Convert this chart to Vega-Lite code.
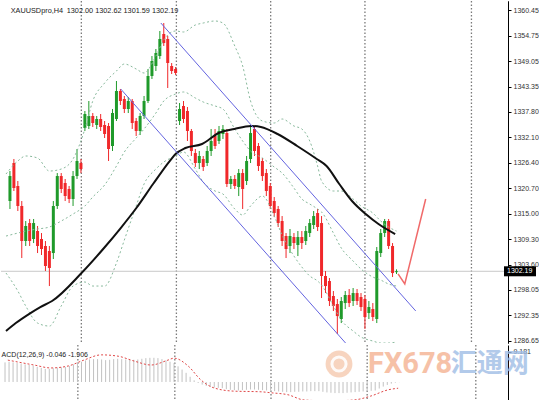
{
  "$schema": "https://vega.github.io/schema/vega-lite/v6.json",
  "padding": 0,
  "background": "white",
  "spacing": 0,
  "config": {
    "font": "Liberation Sans",
    "view": {"stroke": null},
    "axis": {"domainColor": "#000000", "tickColor": "#000000", "tickSize": 3, "labelFontSize": 7, "labelColor": "#333333", "labelPadding": 2, "grid": false, "labelOverlap": false, "labelFlush": false, "labelBound": false, "domainWidth": 1}
  },
  "resolve": {"scale": {"y": "independent"}},
  "datasets": {
    "candles": [
      {"b":1,"o":1317.86,"h":1324.55,"l":1316.08,"c":1323.43},
      {"b":2,"o":1326.33,"h":1327.23,"l":1320.09,"c":1320.76},
      {"b":3,"o":1321.21,"h":1322.32,"l":1315.63,"c":1316.75},
      {"b":4,"o":1316.75,"h":1317.86,"l":1305.15,"c":1308.94},
      {"b":5,"o":1308.94,"h":1313.40,"l":1307.83,"c":1312.29},
      {"b":6,"o":1312.95,"h":1313.85,"l":1307.83,"c":1308.94},
      {"b":7,"o":1309.39,"h":1313.85,"l":1308.49,"c":1312.95},
      {"b":8,"o":1311.17,"h":1312.29,"l":1306.26,"c":1307.83},
      {"b":9,"o":1309.39,"h":1310.72,"l":1305.82,"c":1307.16},
      {"b":10,"o":1307.83,"h":1308.94,"l":1302.25,"c":1303.37},
      {"b":11,"o":1306.71,"h":1307.83,"l":1298.90,"c":1302.92},
      {"b":12,"o":1306.26,"h":1317.86,"l":1304.93,"c":1316.75},
      {"b":13,"o":1316.75,"h":1324.10,"l":1316.08,"c":1323.43},
      {"b":14,"o":1323.43,"h":1324.10,"l":1319.64,"c":1320.54},
      {"b":15,"o":1321.87,"h":1322.77,"l":1317.86,"c":1318.97},
      {"b":16,"o":1320.54,"h":1321.21,"l":1317.41,"c":1318.31},
      {"b":17,"o":1318.31,"h":1324.55,"l":1316.75,"c":1323.43},
      {"b":18,"o":1323.43,"h":1329.46,"l":1322.77,"c":1326.78},
      {"b":19,"o":1326.33,"h":1327.23,"l":1324.10,"c":1324.99},
      {"b":20,"o":1334.14,"h":1337.93,"l":1333.47,"c":1337.26},
      {"b":21,"o":1334.59,"h":1340.16,"l":1333.92,"c":1336.82},
      {"b":22,"o":1336.82,"h":1337.48,"l":1334.36,"c":1335.25},
      {"b":23,"o":1334.81,"h":1336.82,"l":1333.92,"c":1336.15},
      {"b":24,"o":1336.15,"h":1337.26,"l":1333.47,"c":1334.36},
      {"b":25,"o":1334.81,"h":1335.70,"l":1331.91,"c":1332.80},
      {"b":26,"o":1334.59,"h":1335.25,"l":1326.78,"c":1329.46},
      {"b":27,"o":1330.13,"h":1338.38,"l":1329.01,"c":1337.48},
      {"b":28,"o":1336.15,"h":1344.62,"l":1335.70,"c":1342.39},
      {"b":29,"o":1342.39,"h":1342.84,"l":1339.27,"c":1340.16},
      {"b":30,"o":1340.61,"h":1341.28,"l":1337.48,"c":1338.38},
      {"b":31,"o":1338.38,"h":1341.05,"l":1337.48,"c":1340.16},
      {"b":32,"o":1340.16,"h":1340.61,"l":1333.92,"c":1335.25},
      {"b":33,"o":1335.70,"h":1336.37,"l":1332.36,"c":1333.47},
      {"b":34,"o":1333.47,"h":1337.48,"l":1332.58,"c":1336.82},
      {"b":35,"o":1336.82,"h":1341.28,"l":1336.15,"c":1340.16},
      {"b":36,"o":1340.16,"h":1347.30,"l":1339.71,"c":1345.74},
      {"b":37,"o":1345.74,"h":1350.19,"l":1345.07,"c":1349.08},
      {"b":38,"o":1347.97,"h":1351.76,"l":1346.85,"c":1350.86},
      {"b":39,"o":1350.19,"h":1355.77,"l":1349.53,"c":1353.99},
      {"b":40,"o":1355.10,"h":1357.55,"l":1352.43,"c":1353.09},
      {"b":41,"o":1353.99,"h":1354.66,"l":1343.06,"c":1348.63},
      {"b":42,"o":1347.97,"h":1348.63,"l":1346.18,"c":1346.85},
      {"b":43,"o":1347.30,"h":1347.74,"l":1345.96,"c":1346.40},
      {"b":44,"o":1335.70,"h":1339.71,"l":1334.81,"c":1338.38},
      {"b":45,"o":1339.05,"h":1340.16,"l":1335.25,"c":1336.15},
      {"b":46,"o":1337.93,"h":1338.82,"l":1331.24,"c":1333.47},
      {"b":47,"o":1333.47,"h":1333.92,"l":1327.90,"c":1329.01},
      {"b":48,"o":1328.56,"h":1329.46,"l":1325.44,"c":1326.33},
      {"b":49,"o":1326.33,"h":1329.01,"l":1324.99,"c":1327.90},
      {"b":50,"o":1327.23,"h":1327.90,"l":1324.55,"c":1325.44},
      {"b":51,"o":1326.33,"h":1330.13,"l":1325.66,"c":1329.01},
      {"b":52,"o":1329.01,"h":1333.92,"l":1327.90,"c":1331.24},
      {"b":53,"o":1332.36,"h":1333.92,"l":1329.46,"c":1330.13},
      {"b":54,"o":1331.24,"h":1334.59,"l":1330.57,"c":1333.47},
      {"b":55,"o":1332.80,"h":1334.81,"l":1331.69,"c":1333.92},
      {"b":56,"o":1333.02,"h":1333.92,"l":1320.98,"c":1321.65},
      {"b":57,"o":1321.65,"h":1323.44,"l":1320.54,"c":1322.77},
      {"b":58,"o":1322.77,"h":1323.66,"l":1320.54,"c":1321.21},
      {"b":59,"o":1320.98,"h":1324.99,"l":1318.97,"c":1324.10},
      {"b":60,"o":1324.10,"h":1324.99,"l":1316.08,"c":1320.54},
      {"b":61,"o":1322.32,"h":1327.90,"l":1321.43,"c":1326.78},
      {"b":62,"o":1327.23,"h":1334.59,"l":1326.33,"c":1333.02},
      {"b":63,"o":1333.92,"h":1334.59,"l":1327.90,"c":1329.01},
      {"b":64,"o":1330.13,"h":1330.79,"l":1324.55,"c":1325.66},
      {"b":65,"o":1326.78,"h":1327.45,"l":1322.32,"c":1323.43},
      {"b":66,"o":1324.10,"h":1324.99,"l":1318.97,"c":1320.09},
      {"b":67,"o":1321.21,"h":1321.87,"l":1316.08,"c":1316.75},
      {"b":68,"o":1317.86,"h":1318.75,"l":1314.29,"c":1315.18},
      {"b":69,"o":1316.08,"h":1316.75,"l":1312.06,"c":1312.95},
      {"b":70,"o":1313.40,"h":1314.51,"l":1307.83,"c":1308.94},
      {"b":71,"o":1310.06,"h":1310.72,"l":1305.15,"c":1307.16},
      {"b":72,"o":1307.83,"h":1311.62,"l":1306.26,"c":1310.06},
      {"b":73,"o":1309.83,"h":1310.72,"l":1307.16,"c":1308.49},
      {"b":74,"o":1308.05,"h":1311.17,"l":1305.59,"c":1309.83},
      {"b":75,"o":1309.83,"h":1311.17,"l":1307.16,"c":1308.49},
      {"b":76,"o":1308.94,"h":1312.29,"l":1308.05,"c":1311.17},
      {"b":77,"o":1310.72,"h":1313.85,"l":1309.83,"c":1312.95},
      {"b":78,"o":1312.51,"h":1315.63,"l":1311.62,"c":1314.51},
      {"b":79,"o":1315.18,"h":1316.08,"l":1311.17,"c":1312.06},
      {"b":80,"o":1312.95,"h":1314.51,"l":1296.23,"c":1301.14},
      {"b":81,"o":1301.14,"h":1302.25,"l":1297.34,"c":1298.90},
      {"b":82,"o":1300.02,"h":1300.69,"l":1294.45,"c":1295.56},
      {"b":83,"o":1296.68,"h":1297.79,"l":1293.33,"c":1294.45},
      {"b":84,"o":1294.89,"h":1296.01,"l":1288.20,"c":1292.21},
      {"b":85,"o":1291.55,"h":1296.45,"l":1290.65,"c":1295.56},
      {"b":86,"o":1295.11,"h":1297.79,"l":1293.78,"c":1296.90},
      {"b":87,"o":1296.90,"h":1298.24,"l":1294.22,"c":1295.11},
      {"b":88,"o":1295.56,"h":1298.46,"l":1294.45,"c":1297.34},
      {"b":89,"o":1297.34,"h":1298.24,"l":1294.67,"c":1295.56},
      {"b":90,"o":1296.45,"h":1297.34,"l":1293.33,"c":1294.22},
      {"b":91,"o":1296.01,"h":1296.90,"l":1289.32,"c":1291.99},
      {"b":92,"o":1292.88,"h":1295.56,"l":1291.55,"c":1294.22},
      {"b":93,"o":1293.78,"h":1295.11,"l":1291.10,"c":1291.99},
      {"b":94,"o":1291.55,"h":1307.60,"l":1290.65,"c":1306.71},
      {"b":95,"o":1306.26,"h":1311.62,"l":1305.37,"c":1310.72},
      {"b":96,"o":1310.72,"h":1313.85,"l":1309.83,"c":1313.40},
      {"b":97,"o":1313.40,"h":1313.85,"l":1307.16,"c":1307.83},
      {"b":98,"o":1307.83,"h":1308.49,"l":1300.91,"c":1301.80},
      {"b":99,"o":1302.00,"h":1302.62,"l":1301.59,"c":1302.19}
    ],
    "bands": [
      {"band":"upper","b":0,"p":1323.88},{"band":"upper","b":3,"p":1326.78},{"band":"upper","b":5,"p":1327.90},{"band":"upper","b":8,"p":1327.45},{"band":"upper","b":11,"p":1324.55},{"band":"upper","b":14,"p":1324.99},{"band":"upper","b":17,"p":1327.23},{"band":"upper","b":20,"p":1333.92},{"band":"upper","b":22,"p":1340.16},{"band":"upper","b":25,"p":1344.17},{"band":"upper","b":28,"p":1346.85},{"band":"upper","b":30,"p":1348.41},{"band":"upper","b":33,"p":1347.30},{"band":"upper","b":35,"p":1346.40},{"band":"upper","b":38,"p":1350.19},{"band":"upper","b":40,"p":1353.76},{"band":"upper","b":43,"p":1355.77},{"band":"upper","b":45,"p":1355.55},{"band":"upper","b":48,"p":1357.11},{"band":"upper","b":50,"p":1357.55},{"band":"upper","b":53,"p":1358.00},{"band":"upper","b":55,"p":1357.55},{"band":"upper","b":58,"p":1352.43},{"band":"upper","b":60,"p":1347.97},{"band":"upper","b":62,"p":1340.16},{"band":"upper","b":65,"p":1335.70},{"band":"upper","b":68,"p":1335.25},{"band":"upper","b":70,"p":1336.15},{"band":"upper","b":73,"p":1334.59},{"band":"upper","b":75,"p":1333.92},{"band":"upper","b":77,"p":1331.24},{"band":"upper","b":79,"p":1325.66},{"band":"upper","b":80,"p":1322.32},{"band":"upper","b":83,"p":1320.09},{"band":"upper","b":85,"p":1320.09},{"band":"upper","b":88,"p":1318.31},{"band":"upper","b":90,"p":1316.75},{"band":"upper","b":93,"p":1315.18},{"band":"upper","b":95,"p":1313.40},{"band":"upper","b":97,"p":1312.06},{"band":"upper","b":99,"p":1311.17},
      {"band":"middle","b":0,"p":1310.05},{"band":"middle","b":3,"p":1310.72},{"band":"middle","b":5,"p":1311.17},{"band":"middle","b":8,"p":1311.62},{"band":"middle","b":11,"p":1312.06},{"band":"middle","b":14,"p":1313.40},{"band":"middle","b":17,"p":1314.96},{"band":"middle","b":20,"p":1316.75},{"band":"middle","b":22,"p":1318.75},{"band":"middle","b":25,"p":1321.43},{"band":"middle","b":28,"p":1325.66},{"band":"middle","b":30,"p":1328.79},{"band":"middle","b":33,"p":1331.91},{"band":"middle","b":35,"p":1333.92},{"band":"middle","b":38,"p":1337.48},{"band":"middle","b":40,"p":1340.16},{"band":"middle","b":43,"p":1341.72},{"band":"middle","b":45,"p":1342.17},{"band":"middle","b":48,"p":1340.83},{"band":"middle","b":50,"p":1339.94},{"band":"middle","b":53,"p":1339.05},{"band":"middle","b":55,"p":1338.38},{"band":"middle","b":58,"p":1333.92},{"band":"middle","b":60,"p":1331.24},{"band":"middle","b":62,"p":1329.01},{"band":"middle","b":65,"p":1327.45},{"band":"middle","b":68,"p":1325.44},{"band":"middle","b":70,"p":1324.10},{"band":"middle","b":73,"p":1320.76},{"band":"middle","b":75,"p":1318.31},{"band":"middle","b":77,"p":1317.19},{"band":"middle","b":79,"p":1316.08},{"band":"middle","b":80,"p":1315.41},{"band":"middle","b":83,"p":1310.72},{"band":"middle","b":85,"p":1307.38},{"band":"middle","b":88,"p":1304.48},{"band":"middle","b":90,"p":1302.70},{"band":"middle","b":93,"p":1300.91},{"band":"middle","b":95,"p":1300.24},{"band":"middle","b":97,"p":1299.35},{"band":"middle","b":99,"p":1298.90},
      {"band":"lower","b":0,"p":1301.80},{"band":"lower","b":3,"p":1297.79},{"band":"lower","b":5,"p":1294.45},{"band":"lower","b":8,"p":1290.65},{"band":"lower","b":11,"p":1289.98},{"band":"lower","b":14,"p":1294.45},{"band":"lower","b":17,"p":1298.90},{"band":"lower","b":20,"p":1299.80},{"band":"lower","b":22,"p":1298.90},{"band":"lower","b":25,"p":1298.90},{"band":"lower","b":28,"p":1304.03},{"band":"lower","b":30,"p":1309.16},{"band":"lower","b":33,"p":1316.75},{"band":"lower","b":35,"p":1321.65},{"band":"lower","b":38,"p":1324.99},{"band":"lower","b":40,"p":1326.56},{"band":"lower","b":43,"p":1327.90},{"band":"lower","b":45,"p":1328.79},{"band":"lower","b":48,"p":1324.99},{"band":"lower","b":50,"p":1322.10},{"band":"lower","b":53,"p":1320.09},{"band":"lower","b":55,"p":1319.42},{"band":"lower","b":58,"p":1316.08},{"band":"lower","b":60,"p":1314.74},{"band":"lower","b":62,"p":1316.75},{"band":"lower","b":65,"p":1318.97},{"band":"lower","b":68,"p":1314.51},{"band":"lower","b":70,"p":1310.28},{"band":"lower","b":73,"p":1305.59},{"band":"lower","b":75,"p":1303.14},{"band":"lower","b":77,"p":1301.14},{"band":"lower","b":79,"p":1300.02},{"band":"lower","b":80,"p":1299.13},{"band":"lower","b":83,"p":1294.45},{"band":"lower","b":85,"p":1291.32},{"band":"lower","b":88,"p":1288.87},{"band":"lower","b":90,"p":1287.53},{"band":"lower","b":93,"p":1286.64},{"band":"lower","b":95,"p":1286.19},{"band":"lower","b":97,"p":1286.19},{"band":"lower","b":99,"p":1286.42}
    ],
    "ma": [
      {"b":0,"p":1288.87},{"b":2.49,"p":1290.65},{"b":6.21,"p":1292.88},{"b":8.7,"p":1294.22},{"b":11.68,"p":1295.56},{"b":19.14,"p":1301.80},{"b":24.85,"p":1307.38},{"b":29.08,"p":1311.84},{"b":33.05,"p":1316.30},{"b":37.28,"p":1321.65},{"b":41.5,"p":1326.78},{"b":42.99,"p":1328.34},{"b":45.48,"p":1329.68},{"b":49.7,"p":1330.57},{"b":53.93,"p":1333.02},{"b":57.9,"p":1333.92},{"b":62.13,"p":1334.59},{"b":64.61,"p":1334.36},{"b":68.84,"p":1332.80},{"b":73.81,"p":1330.13},{"b":78.78,"p":1327.23},{"b":81.26,"p":1325.66},{"b":84.49,"p":1321.65},{"b":87.72,"p":1317.86},{"b":91.2,"p":1314.96},{"b":94.43,"p":1312.73},{"b":98.66,"p":1310.50}
    ],
    "channel": [
      {"line":"upper","b":39.26,"p":1357.55},{"line":"upper","b":103.88,"p":1293.34},
      {"line":"lower","b":29.08,"p":1342.84},{"line":"lower","b":87,"p":1285.29}
    ],
    "projection": [
      {"b":99.4,"p":1301.60},{"b":101.1,"p":1299.36},{"b":106.4,"p":1318.31}
    ],
    "grid": [{"b":19.1},{"b":43.2},{"b":67.1},{"b":91.0},{"b":118.0}],
    "last": [{"b":126,"p":1302.19,"t":"1302.19"}],
    "header": [
      {"b":1.2,"p":1360.2,"t":"XAUUSDpro,H4"},
      {"b":15.4,"p":1360.2,"t":"1302.00 1302.62 1301.59 1302.19"}
    ],
    "hist": [
      {"b":1,"v":6.0},{"b":2,"v":6.2},{"b":3,"v":6.0},{"b":4,"v":5.8},{"b":5,"v":5.6},{"b":6,"v":5.4},{"b":7,"v":5.2},{"b":8,"v":5.0},{"b":9,"v":4.6},{"b":10,"v":4.3},{"b":11,"v":4.0},{"b":12,"v":4.0},{"b":13,"v":4.2},{"b":14,"v":4.4},{"b":15,"v":4.5},{"b":16,"v":4.6},{"b":17,"v":4.9},{"b":18,"v":5.4},{"b":19,"v":5.8},{"b":20,"v":6.2},{"b":21,"v":6.6},{"b":22,"v":6.9},{"b":23,"v":7.0},{"b":24,"v":7.0},{"b":25,"v":6.9},{"b":26,"v":6.7},{"b":27,"v":6.8},{"b":28,"v":7.0},{"b":29,"v":7.1},{"b":30,"v":7.0},{"b":31,"v":6.9},{"b":32,"v":6.8},{"b":33,"v":6.8},{"b":34,"v":6.9},{"b":35,"v":7.1},{"b":36,"v":7.3},{"b":37,"v":7.4},{"b":38,"v":7.4},{"b":39,"v":7.3},{"b":40,"v":7.0},{"b":41,"v":6.6},{"b":42,"v":6.2},{"b":43,"v":5.8},{"b":44,"v":4.8},{"b":45,"v":3.8},{"b":46,"v":2.8},{"b":47,"v":1.6},{"b":48,"v":0.5},{"b":49,"v":-0.3},{"b":50,"v":-0.8},{"b":51,"v":-1.2},{"b":52,"v":-1.5},{"b":53,"v":-1.7},{"b":54,"v":-1.8},{"b":55,"v":-1.9},{"b":56,"v":-2.2},{"b":57,"v":-2.4},{"b":58,"v":-2.5},{"b":59,"v":-2.6},{"b":60,"v":-2.5},{"b":61,"v":-2.4},{"b":62,"v":-2.3},{"b":63,"v":-2.3},{"b":64,"v":-2.4},{"b":65,"v":-2.5},{"b":66,"v":-2.6},{"b":67,"v":-2.7},{"b":68,"v":-2.8},{"b":69,"v":-2.9},{"b":70,"v":-3.0},{"b":71,"v":-3.1},{"b":72,"v":-3.1},{"b":73,"v":-3.0},{"b":74,"v":-3.0},{"b":75,"v":-2.9},{"b":76,"v":-2.9},{"b":77,"v":-2.8},{"b":78,"v":-2.8},{"b":79,"v":-2.8},{"b":80,"v":-3.0},{"b":81,"v":-3.2},{"b":82,"v":-3.3},{"b":83,"v":-3.4},{"b":84,"v":-3.4},{"b":85,"v":-3.4},{"b":86,"v":-3.3},{"b":87,"v":-3.2},{"b":88,"v":-3.1},{"b":89,"v":-3.0},{"b":90,"v":-2.9},{"b":91,"v":-2.8},{"b":92,"v":-2.7},{"b":93,"v":-2.6},{"b":94,"v":-2.0},{"b":95,"v":-1.4},{"b":96,"v":-0.9},{"b":97,"v":-0.5},{"b":98,"v":-0.2},{"b":99,"v":-0.046}
    ],
    "signal": [
      {"b":1.7,"v":6.7},{"b":8.2,"v":5.2},{"b":12.4,"v":4.3},{"b":16.7,"v":4.9},{"b":20.6,"v":6.7},{"b":24.9,"v":8.3},{"b":29.1,"v":7.9},{"b":33.1,"v":6.4},{"b":37.3,"v":5.2},{"b":41.5,"v":6.7},{"b":43.0,"v":7.3},{"b":46.5,"v":4.9},{"b":49.7,"v":0.6},{"b":52.9,"v":-1.8},{"b":57.9,"v":-2.8},{"b":64.6,"v":-3.0},{"b":67.1,"v":-3.3},{"b":71.3,"v":-3.9},{"b":75.3,"v":-5.5},{"b":82.0,"v":-5.8},{"b":87.7,"v":-5.5},{"b":91.9,"v":-4.3},{"b":96.2,"v":-2.4},{"b":98.7,"v":-1.906}
    ],
    "macdLabel": [{"b":0.15,"v":8.3,"t":"ACD(12,26,9) -0.046 -1.906"}],
    "logo": [{"b":84.0,"v":5.5}],
    "brand": [{"b":91.2,"v":5.5,"t":"FX678"}],
    "brandCn": [{"b":111.8,"v":5.5,"t":"汇通网"}]
  },
  "vconcat": [
    {
      "width": 507,
      "height": 342,
      "resolve": {"axis": {"y": "independent"}},
      "layer": [
        {
          "data": {"name": "grid"},
          "mark": {"type": "rule", "color": "#7a7a7a", "strokeDash": [1.5, 2], "strokeWidth": 1.3},
          "encoding": {
            "x": {"field": "b", "type": "quantitative", "scale": {"domain": [0, 126], "nice": false, "zero": false}, "axis": null}
          }
        },
        {
          "data": {"name": "last"},
          "mark": {"type": "rule", "color": "#c8c8c8", "strokeWidth": 1},
          "encoding": {
            "y": {"field": "p", "type": "quantitative", "title": null,
              "scale": {"domain": [1286.2, 1362.46], "nice": false, "zero": false},
              "axis": {"orient": "right", "title": null, "format": ".2f", "labelOverlap": false,
                "values": [1360.45, 1349.05, 1337.80, 1326.40, 1315.00, 1303.60, 1292.35]}}
          }
        },
        {
          "data": {"name": "candles"},
          "mark": {"type": "rule", "strokeWidth": 1},
          "encoding": {
            "x": {"field": "b", "type": "quantitative", "axis": null},
            "y": {"field": "l", "type": "quantitative", "title": null,
              "axis": {"orient": "right", "title": null, "format": ".2f", "labelOverlap": false,
                "values": [1354.75, 1343.35, 1332.10, 1320.70, 1309.30, 1298.05, 1286.65]}},
            "y2": {"field": "h"},
            "color": {"condition": {"test": "datum.c >= datum.o", "value": "#1f9a2a"}, "value": "#f0282a"}
          }
        },
        {
          "data": {"name": "candles"},
          "mark": {"type": "bar", "size": 3},
          "encoding": {
            "x": {"field": "b", "type": "quantitative", "axis": null},
            "y": {"field": "o", "type": "quantitative", "title": null, "axis": null},
            "y2": {"field": "c"},
            "color": {"condition": {"test": "datum.c >= datum.o", "value": "#1f9a2a"}, "value": "#f0282a"}
          }
        },
        {
          "data": {"name": "bands"},
          "mark": {"type": "line", "color": "#88b99c", "strokeDash": [2, 2.5], "strokeWidth": 1, "interpolate": "monotone", "clip": true},
          "encoding": {
            "x": {"field": "b", "type": "quantitative", "axis": null},
            "y": {"field": "p", "type": "quantitative", "title": null, "axis": null},
            "detail": {"field": "band"}
          }
        },
        {
          "data": {"name": "ma"},
          "mark": {"type": "line", "color": "#111111", "strokeWidth": 2, "interpolate": "monotone", "clip": true},
          "encoding": {
            "x": {"field": "b", "type": "quantitative", "axis": null},
            "y": {"field": "p", "type": "quantitative", "title": null, "axis": null}
          }
        },
        {
          "data": {"name": "channel"},
          "mark": {"type": "line", "color": "#6464e0", "strokeWidth": 1, "clip": true},
          "encoding": {
            "x": {"field": "b", "type": "quantitative", "axis": null},
            "y": {"field": "p", "type": "quantitative", "title": null, "axis": null},
            "detail": {"field": "line"}
          }
        },
        {
          "data": {"name": "projection"},
          "mark": {"type": "line", "color": "#f06a6a", "strokeWidth": 1.5},
          "encoding": {
            "x": {"field": "b", "type": "quantitative", "axis": null},
            "y": {"field": "p", "type": "quantitative", "title": null, "axis": null}
          }
        },
        {
          "data": {"name": "header"},
          "mark": {"type": "text", "align": "left", "baseline": "middle", "fontSize": 7.3, "color": "#222222"},
          "encoding": {
            "x": {"field": "b", "type": "quantitative", "axis": null},
            "y": {"field": "p", "type": "quantitative", "title": null, "axis": null},
            "text": {"field": "t"}
          }
        },
        {
          "data": {"name": "last"},
          "mark": {"type": "rect", "color": "#000000", "xOffset": 1, "x2Offset": 33, "yOffset": -5, "y2Offset": 5},
          "encoding": {
            "x": {"field": "b", "type": "quantitative", "axis": null},
            "x2": {"field": "b"},
            "y": {"field": "p", "type": "quantitative", "title": null, "axis": null},
            "y2": {"field": "p"}
          }
        },
        {
          "data": {"name": "last"},
          "mark": {"type": "text", "align": "left", "baseline": "middle", "dx": 4, "fontSize": 7, "color": "#ffffff"},
          "encoding": {
            "x": {"field": "b", "type": "quantitative", "axis": null},
            "y": {"field": "p", "type": "quantitative", "title": null, "axis": null},
            "text": {"field": "t"}
          }
        }
      ]
    },
    {
      "width": 507,
      "height": 70,
      "layer": [
        {
          "data": {"name": "grid"},
          "mark": {"type": "rule", "color": "#7a7a7a", "strokeDash": [1.5, 2], "strokeWidth": 1.3},
          "encoding": {
            "x": {"field": "b", "type": "quantitative", "scale": {"domain": [0, 126], "nice": false, "zero": false}, "axis": null}
          }
        },
        {
          "data": {"name": "hist"},
          "mark": {"type": "rule", "color": "#c2c2c2", "strokeWidth": 1},
          "encoding": {
            "x": {"field": "b", "type": "quantitative", "axis": null},
            "y": {"field": "v", "type": "quantitative", "title": null,
              "scale": {"domain": [-10.1, 11.32], "nice": false, "zero": false},
              "axis": {"orient": "right", "title": null, "values": [9.181, 0, -9.181], "labelOverlap": false,
                "labelExpr": "datum.value == 0 ? '0.00' : format(datum.value, '.3f')"}},
            "y2": {"datum": 0}
          }
        },
        {
          "data": {"name": "signal"},
          "mark": {"type": "line", "color": "#e04848", "strokeDash": [2, 2], "strokeWidth": 1, "interpolate": "monotone"},
          "encoding": {
            "x": {"field": "b", "type": "quantitative", "axis": null},
            "y": {"field": "v", "type": "quantitative", "title": null}
          }
        },
        {
          "data": {"name": "macdLabel"},
          "mark": {"type": "text", "align": "left", "baseline": "middle", "fontSize": 7, "color": "#222222"},
          "encoding": {
            "x": {"field": "b", "type": "quantitative", "axis": null},
            "y": {"field": "v", "type": "quantitative", "title": null},
            "text": {"field": "t"}
          }
        },
        {
          "data": {"name": "logo"},
          "mark": {"type": "point", "shape": "circle", "filled": true, "size": 720, "color": "#f4c2a4", "opacity": 0.7},
          "encoding": {
            "x": {"field": "b", "type": "quantitative", "axis": null},
            "y": {"field": "v", "type": "quantitative", "title": null}
          }
        },
        {
          "data": {"name": "logo"},
          "mark": {"type": "point", "shape": "circle", "filled": false, "size": 200, "stroke": "#ffffff", "strokeWidth": 3, "opacity": 0.9},
          "encoding": {
            "x": {"field": "b", "type": "quantitative", "axis": null},
            "y": {"field": "v", "type": "quantitative", "title": null}
          }
        },
        {
          "data": {"name": "brand"},
          "mark": {"type": "text", "align": "left", "baseline": "middle", "font": "Liberation Sans Narrow, Roboto", "fontWeight": "bold", "fontSize": 29, "color": "#f5b292", "opacity": 0.8},
          "encoding": {
            "x": {"field": "b", "type": "quantitative", "axis": null},
            "y": {"field": "v", "type": "quantitative", "title": null},
            "text": {"field": "t"}
          }
        },
        {
          "data": {"name": "brandCn"},
          "mark": {"type": "text", "align": "left", "baseline": "middle", "font": "Noto Sans CJK SC", "fontWeight": "bold", "fontSize": 26, "color": "#9fbde6", "opacity": 0.8},
          "encoding": {
            "x": {"field": "b", "type": "quantitative", "axis": null},
            "y": {"field": "v", "type": "quantitative", "title": null},
            "text": {"field": "t"}
          }
        },
        {
          "mark": {"type": "rule", "color": "#666666", "strokeWidth": 3, "yOffset": 1},
          "encoding": {
            "y": {"datum": 11.32, "type": "quantitative"}
          }
        }
      ]
    }
  ]
}
